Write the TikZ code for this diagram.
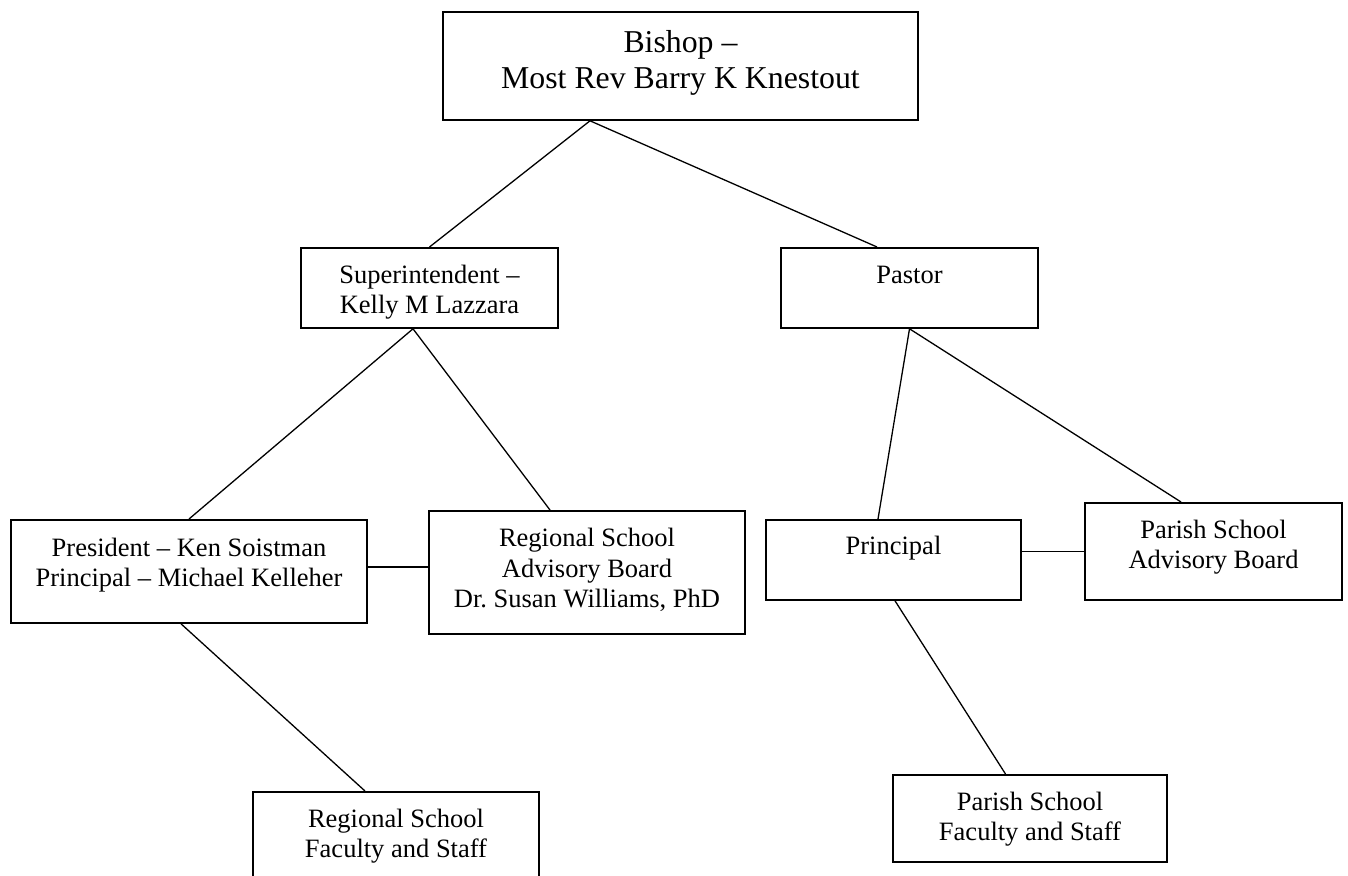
\documentclass[tikz,border=0pt]{standalone}
\usepackage{fontspec}
\setmainfont{Liberation Serif}
\usetikzlibrary{calc}

\tikzset{
  orgbox/.style={draw, line width=1.8pt, inner sep=0pt, anchor=north, align=center,
    font=\fontsize{26.5}{30.5}\selectfont},
  link/.style={line width=1.3pt}
}

\begin{document}
\begin{tikzpicture}[x=1pt,y=-1pt]
    \useasboundingbox (0,0) rectangle (1348,875);
    \clip (0,0) rectangle (1348,875);

    \node [orgbox, minimum width=475pt, text height=77pt, text depth=31pt,
           font=\fontsize{31.8}{36}\selectfont] (bishop) at (680.5,11)
          {Bishop --\\Most Rev Barry K Knestout};

    \node [orgbox, minimum width=257pt, text height=66pt, text depth=14pt] (sup) at (429.5,247)
          {Superintendent --\\Kelly M Lazzara};
    \node [orgbox, minimum width=257pt, text height=36pt, text depth=44pt] (pastor) at (909.5,247)
          {Pastor};

    \node [orgbox, minimum width=356pt, text height=67pt, text depth=36pt] (pres) at (189,519)
          {President -- Ken Soistman\\Principal -- Michael Kelleher};
    \node [orgbox, minimum width=316pt, text height=97pt, text depth=26pt] (radv) at (587,510)
          {Regional School\\Advisory Board\\Dr.\ Susan Williams, PhD};
    \node [orgbox, minimum width=255pt, text height=35pt, text depth=45pt] (prin) at (893.5,519)
          {Principal};
    \node [orgbox, minimum width=257pt, text height=66pt, text depth=31pt] (padv) at (1213.5,502)
          {Parish School\\Advisory Board};

    \node [orgbox, minimum width=286pt, text height=66pt, text depth=34pt] (rfac) at (396,791)
          {Regional School\\Faculty and Staff};
    \node [orgbox, minimum width=274pt, text height=66pt, text depth=21pt] (pfac) at (1030,774)
          {Parish School\\Faculty and Staff};

    % lines
    \draw [link] ([xshift=-90.5pt]bishop.south) -- (sup.north);
    \draw [link] ([xshift=-90.5pt]bishop.south) -- ([xshift=-32.5pt]pastor.north);

    \draw [link] ([xshift=-16.5pt]sup.south) -- (pres.north);
    \draw [link] ([xshift=-16.5pt]sup.south) -- ([xshift=-37pt]radv.north);
    \draw [link] ([yshift=4.5pt]pres.east) -- ([yshift=5.5pt]radv.west);
    \draw [link] ([xshift=-8pt]pres.south) -- ([xshift=-31pt]rfac.north);

    \draw [link] (pastor.south) -- ([xshift=-15.5pt]prin.north);
    \draw [link] (pastor.south) -- ([xshift=-32.5pt]padv.north);
    \draw [link] ([yshift=8.5pt]prin.east) -- (padv.west);
    \draw [link] ([xshift=1.5pt]prin.south) -- ([xshift=-24.5pt]pfac.north);
\end{tikzpicture}
\end{document}
